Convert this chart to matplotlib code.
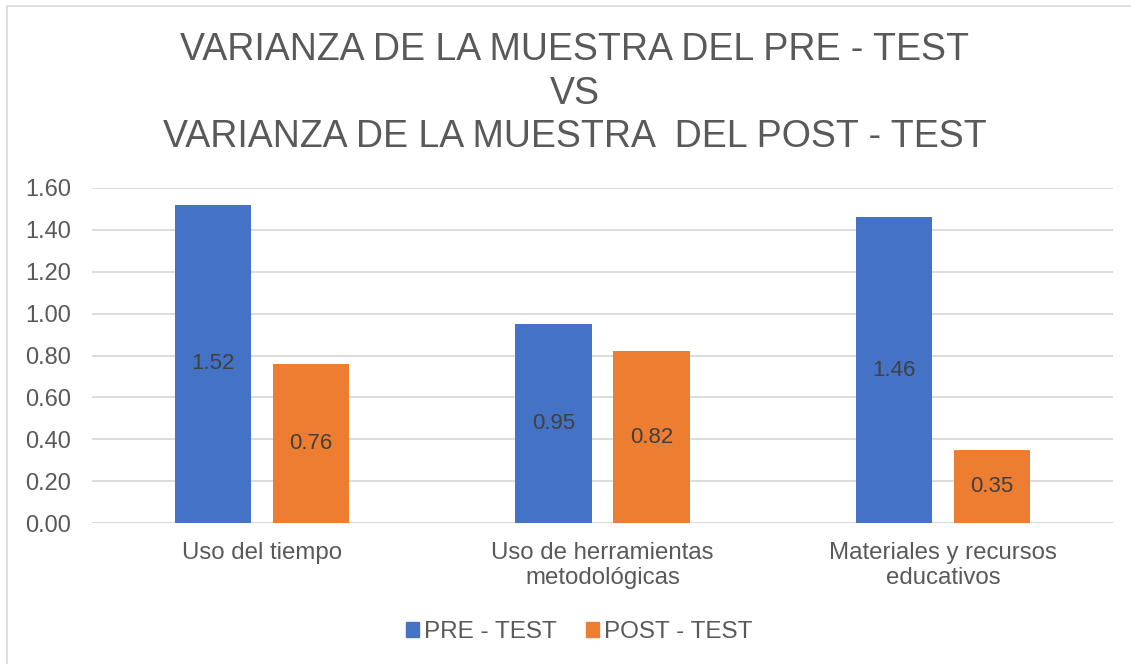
import matplotlib
matplotlib.use("Agg")
import matplotlib.pyplot as plt
import matplotlib.patches as mpatches
import numpy as np

plt.rcParams['font.family'] = ['Liberation Sans', 'DejaVu Sans']

categories = ["Uso del tiempo", "Uso de herramientas\nmetodológicas", "Materiales y recursos\neducativos"]
series_names = ["PRE - TEST", "POST - TEST"]
pre_values = [1.52, 0.95, 1.46]
post_values = [0.76, 0.82, 0.35]
yticks = [0.0, 0.2, 0.4, 0.6, 0.8, 1.0, 1.2, 1.4, 1.6]
title = "VARIANZA DE LA MUESTRA DEL PRE - TEST\nVS\nVARIANZA DE LA MUESTRA  DEL POST - TEST"

BLUE = "#4472C4"
ORANGE = "#ED7D31"
TXT = "#595959"
GRID = "#D9D9D9"

W, H = 1131, 664
fig = plt.figure(figsize=(W / 100, H / 100), dpi=100)
fig.patch.set_facecolor("white")

# chart border (partially cropped in the reference)
fig.add_artist(mpatches.Rectangle((7 / W, -0.1), 1.2, 1 - 6 / H + 0.1, transform=fig.transFigure,
                                  fill=False, edgecolor="#D9D9D9", linewidth=1.2))

ax = fig.add_axes([92 / W, 1 - 523 / H, (1113 - 92) / W, (523 - 188) / H])
x = np.arange(len(categories))
bw = 0.2235
off = 0.144
b1 = ax.bar(x - off, pre_values, bw, color=BLUE, zorder=3)
b2 = ax.bar(x + off, post_values, bw, color=ORANGE, zorder=3)

for bars, vals in ((b1, pre_values), (b2, post_values)):
    for r, v in zip(bars, vals):
        ax.text(r.get_x() + r.get_width() / 2, v / 2, f"{v:.2f}", ha="center", va="center",
                fontsize=16, color="#404040", zorder=4)

ax.set_xlim(-0.5, 2.5)
ax.set_ylim(0, 1.6)
ax.set_yticks(yticks)
ax.set_yticklabels([f"{t:.2f}" for t in yticks])
ax.set_xticks(x)
ax.set_xticklabels(categories, linespacing=1.22)
ax.tick_params(axis="y", length=0, pad=15, labelsize=17, labelcolor=TXT)
ax.tick_params(axis="x", length=0, pad=13.5, labelsize=17.3, labelcolor=TXT)
ax.yaxis.grid(True, color=GRID, linewidth=1.3, zorder=0)
for s in ax.spines.values():
    s.set_visible(False)
ax.axhline(0, color=GRID, linewidth=1.3, zorder=2)

fig.text(575 / W, 1 - 93.5 / H, title, ha="center", va="center", fontsize=27, color=TXT,
         linespacing=1.27, multialignment="center")

handles = [mpatches.Patch(color=BLUE, label=series_names[0]),
           mpatches.Patch(color=ORANGE, label=series_names[1])]
leg = fig.legend(handles=handles, loc="center", bbox_to_anchor=(579 / W, 1 - 632 / H), ncol=2,
                 frameon=False, fontsize=17.5, handlelength=0.55, handleheight=0.55,
                 handletextpad=0.2, columnspacing=1.2, labelcolor=TXT)

fig.savefig("out.png", dpi=100, facecolor="white")
